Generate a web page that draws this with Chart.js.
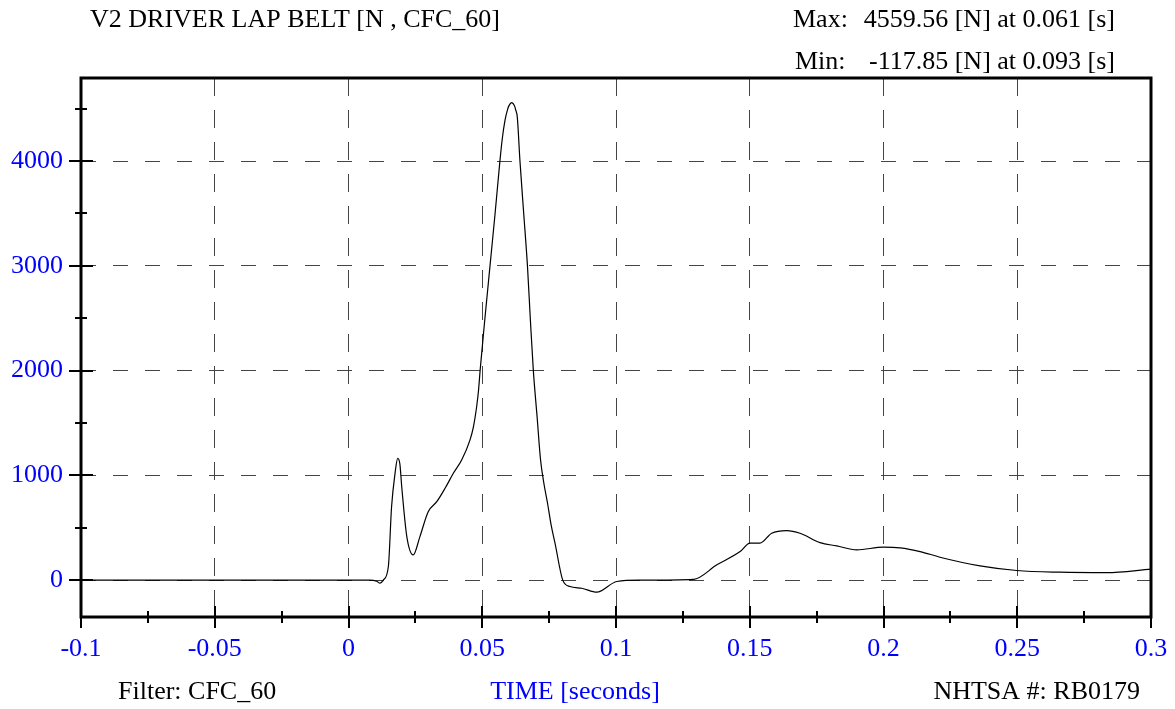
<!DOCTYPE html>
<html>
<head>
<meta charset="utf-8">
<script src="https://cdn.jsdelivr.net/npm/chart.js@4/dist/chart.umd.min.js"></script>
<style>
  html, body { margin: 0; padding: 0; background: #fff; }
</style>
</head>
<body>
<canvas id="belt-chart" width="1175" height="709"></canvas>
<script>
// Values (time in seconds, force in N)
const timeValues = [-0.1, 0.0, 0.008, 0.0105, 0.0118, 0.013, 0.0149, 0.0161, 0.0174, 0.0184, 0.0192, 0.0199,
    0.0218, 0.0242, 0.0267, 0.0298, 0.033, 0.0361, 0.0392, 0.0423, 0.0454, 0.0467, 0.0479, 0.0486, 0.0492, 0.051,
    0.0529, 0.0548, 0.0566, 0.0575, 0.0585, 0.0595, 0.06, 0.061, 0.062, 0.0625, 0.0631, 0.0641, 0.0655, 0.0669,
    0.068, 0.0691, 0.0705, 0.0718, 0.073, 0.0745, 0.0758, 0.0772, 0.0801, 0.0828, 0.0872, 0.0928, 0.1003, 0.109,
    0.129, 0.1377, 0.1464, 0.1501, 0.1538, 0.1582, 0.1638, 0.1688, 0.1763, 0.1825, 0.19, 0.2, 0.2062, 0.2137,
    0.2211, 0.2361, 0.2498, 0.266, 0.2834, 0.3];
const forceValues = [0, 0, 0, -10, -29, 0, 130, 700, 1020, 1163, 1110, 892,
    416, 241, 416, 654, 749, 877, 1020, 1147, 1337, 1464, 1655, 1810, 2000, 2500,
    3000, 3500, 4000, 4216, 4388, 4496, 4530, 4559, 4530, 4490, 4420, 4000, 3500, 3000,
    2480, 2000, 1560, 1147, 930, 720, 520, 353, 0, -61, -77, -115, -13, 0,
    8, 146, 273, 353, 353, 448, 473, 448, 358, 327, 289, 315, 308, 273,
    219, 136, 92, 76, 72, 105];

const xTickValues = [-0.1, -0.05, 0, 0.05, 0.1, 0.15, 0.2, 0.25, 0.3];
const xTickLabels = ['-0.1', '-0.05', '0', '0.05', '0.1', '0.15', '0.2', '0.25', '0.3'];
const xMinorValues = [-0.075, -0.025, 0.025, 0.075, 0.125, 0.175, 0.225, 0.275];
const yTickValues = [0, 1000, 2000, 3000, 4000];
const yTickLabels = ['0', '1000', '2000', '3000', '4000'];
const yMinorValues = [500, 1500, 2500, 3500, 4500];

const maxForce = 4559.56;
const minForce = -117.85;
const yPad = (maxForce - minForce) * 0.05;

const FONT = '"Liberation Serif", "Times New Roman", serif';
const BLUE = '#0000ff';

// Frame, tick marks and the text around the plot
const framePlugin = {
    id: 'frame',
    afterDraw(chart) {
        const ctx = chart.ctx;
        const area = chart.chartArea;
        const xs = chart.scales.x;
        const ys = chart.scales.y;
        ctx.save();
        ctx.strokeStyle = '#000';

        // tick marks
        ctx.lineWidth = 2;
        ctx.beginPath();
        xTickValues.forEach(v => {
            const px = Math.round(xs.getPixelForValue(v));
            ctx.moveTo(px, area.bottom - 11);
            ctx.lineTo(px, area.bottom + 11);
        });
        xMinorValues.forEach(v => {
            const px = Math.round(xs.getPixelForValue(v));
            ctx.moveTo(px, area.bottom - 6);
            ctx.lineTo(px, area.bottom + 6);
        });
        yTickValues.forEach(v => {
            const py = Math.round(ys.getPixelForValue(v));
            ctx.moveTo(area.left - 12, py);
            ctx.lineTo(area.left + 12, py);
        });
        yMinorValues.forEach(v => {
            const py = Math.round(ys.getPixelForValue(v));
            ctx.moveTo(area.left - 6, py);
            ctx.lineTo(area.left + 6, py);
        });
        ctx.stroke();

        // plot border
        ctx.lineWidth = 3;
        ctx.strokeRect(area.left, area.top, area.right - area.left, area.bottom - area.top);

        // texts
        ctx.font = '26px ' + FONT;
        ctx.textBaseline = 'middle';
        ctx.fillStyle = '#000';
        ctx.textAlign = 'left';
        ctx.fillText('V2 DRIVER LAP BELT [N , CFC_60]', 90, 20);
        ctx.fillText('Max:', 793, 20);
        ctx.fillText('Min:', 795, 62);
        ctx.fillText('Filter: CFC_60', 118, 692);
        ctx.textAlign = 'right';
        ctx.fillText('4559.56 [N] at 0.061 [s]', 1115, 20);
        ctx.fillText('-117.85 [N] at 0.093 [s]', 1115, 62);
        ctx.fillText('NHTSA #: RB0179', 1140, 692);
        ctx.textAlign = 'center';
        ctx.fillStyle = BLUE;
        ctx.fillText('TIME [seconds]', 575, 692);
        ctx.restore();
    }
};

const points = timeValues.map((t, i) => ({ x: t, y: forceValues[i] }));

const beltChart = new Chart(document.getElementById('belt-chart').getContext('2d'), {
    type: 'line',
    data: {
        datasets: [{
            label: 'V2 DRIVER LAP BELT',
            data: points,
            borderColor: '#000',
            borderWidth: 1.2,
            pointRadius: 0,
            fill: false,
            cubicInterpolationMode: 'monotone'
        }]
    },
    options: {
        responsive: false,
        animation: false,
        devicePixelRatio: 1,
        layout: {
            padding: { top: 78, right: 24, left: 0, bottom: 0 }
        },
        scales: {
            x: {
                type: 'linear',
                min: -0.1,
                max: 0.3,
                afterBuildTicks: scale => { scale.ticks = xTickValues.map(v => ({ value: v })); },
                afterFit: scale => {
                    scale.height = 92;
                    scale.paddingLeft = 0;
                    scale.paddingRight = 0; // keep the last label from shrinking the plot
                },
                ticks: {
                    callback: (value, index) => xTickLabels[index],
                    color: BLUE,
                    font: { family: FONT, size: 26 },
                    padding: 17,
                    maxRotation: 0,
                    autoSkip: false
                },
                grid: { color: '#444', lineWidth: 1, drawTicks: false },
                border: { display: false, dash: [18, 14] }
            },
            y: {
                type: 'linear',
                min: minForce - yPad,
                max: maxForce + yPad,
                afterBuildTicks: scale => { scale.ticks = yTickValues.map(v => ({ value: v })); },
                afterFit: scale => {
                    scale.width = 81;
                    scale.paddingTop = 0;
                    scale.paddingBottom = 0;
                },
                ticks: {
                    callback: (value, index) => yTickLabels[index],
                    color: BLUE,
                    font: { family: FONT, size: 26 },
                    padding: 18
                },
                grid: { color: '#444', lineWidth: 1, drawTicks: false },
                border: { display: false, dash: [15, 17] }
            }
        },
        plugins: {
            legend: { display: false },
            tooltip: { enabled: false }
        }
    },
    plugins: [framePlugin]
});
</script>
</body>
</html>
